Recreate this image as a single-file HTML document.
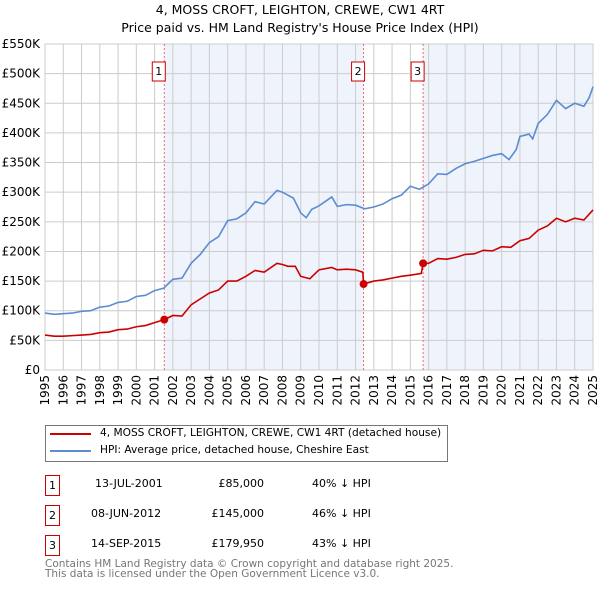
<!DOCTYPE html>
<html><head><meta charset="utf-8"><style>
body{margin:0;background:#fff;font-family:"DejaVu Sans","Liberation Sans",sans-serif;}
#wrap{position:relative;width:600px;height:590px;overflow:hidden}
.t{position:absolute;font-size:11.5px;color:#000;white-space:nowrap}
.box{position:absolute;border:1px solid #c00;width:13px;height:19px;font-size:11px;text-align:center;line-height:19px}
</style></head><body><div id="wrap">
<div class="t" style="left:0;width:600px;text-align:center;top:2px;font-size:12.5px">4, MOSS CROFT, LEIGHTON, CREWE, CW1 4RT</div>
<div class="t" style="left:0;width:600px;text-align:center;top:20px;font-size:12.5px">Price paid vs. HM Land Registry's House Price Index (HPI)</div>
<svg id="chart" width="600" height="420" style="position:absolute;left:0;top:0"></svg>
<div style="position:absolute;left:45px;top:425px;width:401px;height:35px;border:1px solid #777"></div>
<div style="position:absolute;left:50px;top:433px;width:41px;height:2px;background:#c00"></div>
<div class="t" style="left:100px;top:427px;font-size:10.6px">4, MOSS CROFT, LEIGHTON, CREWE, CW1 4RT (detached house)</div>
<div style="position:absolute;left:50px;top:450px;width:41px;height:2px;background:#5b8dd0"></div>
<div class="t" style="left:100px;top:444px;font-size:10.6px">HPI: Average price, detached house, Cheshire East</div>
<div class="box" style="left:45px;top:475px">1</div>
<div class="t" style="left:95px;top:477px;font-size:11px">13-JUL-2001</div>
<div class="t" style="left:200px;width:64px;text-align:right;top:477px;font-size:11px">£85,000</div>
<div class="t" style="left:312px;top:477px;font-size:11px">40% ↓ HPI</div>
<div class="box" style="left:45px;top:505px">2</div>
<div class="t" style="left:91px;top:507px;font-size:11px">08-JUN-2012</div>
<div class="t" style="left:200px;width:64px;text-align:right;top:507px;font-size:11px">£145,000</div>
<div class="t" style="left:312px;top:507px;font-size:11px">46% ↓ HPI</div>
<div class="box" style="left:45px;top:535px">3</div>
<div class="t" style="left:91px;top:537px;font-size:11px">14-SEP-2015</div>
<div class="t" style="left:200px;width:64px;text-align:right;top:537px;font-size:11px">£179,950</div>
<div class="t" style="left:312px;top:537px;font-size:11px">43% ↓ HPI</div>
<div class="t" style="left:45px;top:559px;font-size:10.5px;color:#777;line-height:10px">Contains HM Land Registry data © Crown copyright and database right 2025.<br>This data is licensed under the Open Government Licence v3.0.</div>
</div>
<script>
const hpiYears=[1995,1995.5,1996,1996.5,1997,1997.5,1998,1998.5,1999,1999.5,2000,2000.5,2001,2001.5,2002,2002.5,2003,2003.5,2004,2004.5,2005,2005.5,2006,2006.5,2007,2007.7,2008,2008.3,2008.6,2009,2009.3,2009.6,2010,2010.7,2011,2011.5,2012,2012.5,2013,2013.5,2014,2014.5,2015,2015.5,2016,2016.5,2017,2017.5,2018,2018.5,2019,2019.5,2020,2020.4,2020.8,2021,2021.5,2021.7,2022,2022.5,2023,2023.5,2024,2024.5,2024.8,2025];
const hpiValues=[96,94,95,96,99,100,106,108,114,116,124,126,134,138,153,155,180,195,215,225,252,255,265,284,280,303,300,295,290,265,257,271,277,292,276,279,278,272,275,280,289,295,310,305,314,331,330,340,348,352,357,362,365,355,372,394,398,390,416,431,455,441,450,445,460,478];
const ppYears=[1995,1995.5,1996,1996.5,1997,1997.5,1998,1998.5,1999,1999.5,2000,2000.5,2001,2001.53,2002,2002.5,2003,2003.5,2004,2004.5,2005,2005.5,2006,2006.5,2007,2007.7,2008,2008.3,2008.7,2009,2009.5,2010,2010.7,2011,2011.5,2012,2012.4,2012.44,2013,2013.5,2014,2014.5,2015,2015.6,2015.7,2016,2016.5,2017,2017.5,2018,2018.5,2019,2019.5,2020,2020.5,2021,2021.5,2022,2022.5,2023,2023.5,2024,2024.5,2025];
const ppValues=[59,57,57,58,59,60,63,64,68,69,73,75,80,85,92,91,110,120,130,135,150,150,158,168,165,180,178,175,175,158,154,169,173,169,170,169,165,145,150,152,155,158,160,163,179.95,180,188,187,190,195,196,202,201,208,207,218,222,236,243,256,250,256,253,270];
const saleYears=[2001.53,2012.44,2015.70];
const salePrices=[85,145,179.95];
const saleLabels=["1","2","3"];
const yTicks=[0,50,100,150,200,250,300,350,400,450,500,550];
const yTickLabels=["£0","£50K","£100K","£150K","£200K","£250K","£300K","£350K","£400K","£450K","£500K","£550K"];
const xTicks=[1995,1996,1997,1998,1999,2000,2001,2002,2003,2004,2005,2006,2007,2008,2009,2010,2011,2012,2013,2014,2015,2016,2017,2018,2019,2020,2021,2022,2023,2024,2025];

const L=45,R=593,T=44,B=370;
const X=y=>L+(y-1995)/30*(R-L);
const Y=v=>B-v/550*(B-T);
const svg=document.getElementById('chart');
const NS='http://www.w3.org/2000/svg';
function mk(tag,attrs){const e=document.createElementNS(NS,tag);for(const k in attrs)e.setAttribute(k,attrs[k]);svg.appendChild(e);return e;}
let r;
r=mk('rect',{x:X(saleYears[0]),y:T,width:X(saleYears[1])-X(saleYears[0]),height:B-T,fill:'#eef3fc'});


r=mk('rect',{x:X(saleYears[2]),y:T,width:R-X(saleYears[2]),height:B-T,fill:'#eef3fc'});


yTicks.forEach((v,i)=>{
 const g=mk('line',{x1:L,x2:R,y1:Y(v),y2:Y(v),stroke:'#ccc','stroke-width':1});
 
 
 const t=mk('text',{x:L-5,y:Y(v)+4,'text-anchor':'end','font-size':'12','font-family':'DejaVu Sans,Liberation Sans,sans-serif'});
 t.textContent=yTickLabels[i];
 
 
});
xTicks.forEach(yr=>{
 const g=mk('line',{x1:X(yr),x2:X(yr),y1:T,y2:B,stroke:'#ccc','stroke-width':1});
 
 
 const t=mk('text',{x:0,y:0,'text-anchor':'end','font-size':'12','font-family':'DejaVu Sans,Liberation Sans,sans-serif',transform:`translate(${X(yr)+4},${B+5}) rotate(-90)`});
 t.textContent=yr;
 
 
});
r=mk('rect',{x:L,y:T,width:R-L,height:B-T,fill:'none',stroke:'#ccc'});


saleYears.forEach((yr,i)=>{
 const l=mk('line',{x1:X(yr),x2:X(yr),y1:T,y2:B,stroke:'#e66','stroke-width':1,'stroke-dasharray':'2,2'});
 
 
 const bx=mk('rect',{x:X(yr)-12,y:62,width:13,height:19,fill:'#fff',stroke:'#c00'});
 
 
 const t=mk('text',{x:X(yr)-5.5,y:75,'text-anchor':'middle','font-size':'11','font-family':'DejaVu Sans,sans-serif'});
 t.textContent=saleLabels[i];
 
 
});
const hp=mk('polyline',{points:hpiYears.map((y,i)=>X(y)+','+Y(hpiValues[i])).join(' '),fill:'none',stroke:'#5b8dd0','stroke-width':1.6});


const pp=mk('polyline',{points:ppYears.map((y,i)=>X(y)+','+Y(ppValues[i])).join(' '),fill:'none',stroke:'#c00','stroke-width':1.6});


saleYears.forEach((yr,i)=>{
 const c=mk('circle',{cx:X(yr),cy:Y(salePrices[i]),r:4,fill:'#c00'});
 
 
});
</script></body></html>
